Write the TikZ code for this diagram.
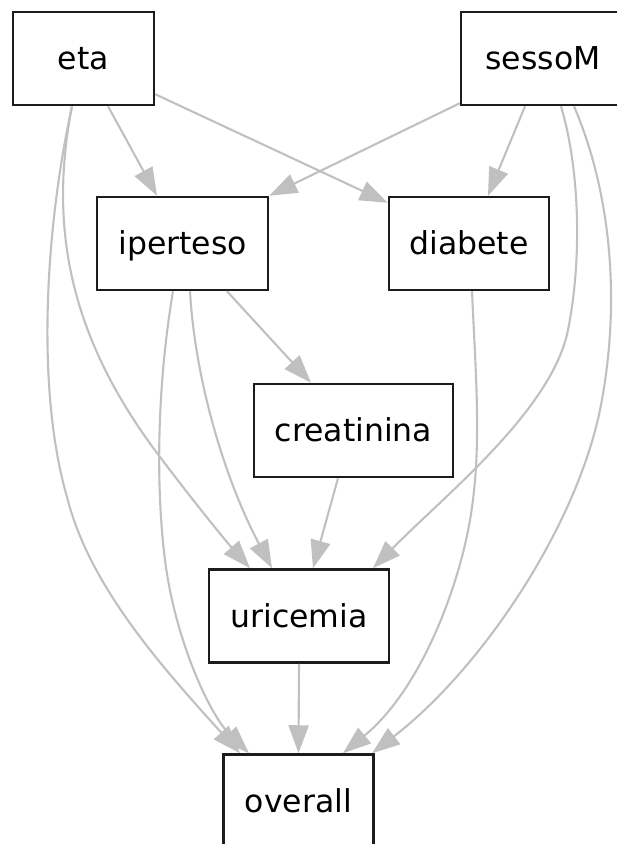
\documentclass[tikz,border=0pt]{standalone}
\usepackage{fontspec}
\setmainfont{DejaVu Sans}
\usetikzlibrary{arrows.meta}
\definecolor{edgegray}{RGB}{192,192,192}
\definecolor{boxline}{RGB}{28,28,28}
\begin{document}
\begin{tikzpicture}[x=1pt,y=-1pt,
  varbox/.style={draw=boxline, line width=2.5pt, rectangle, inner sep=0pt,
    minimum height=93pt, text height=22.6pt, text depth=0pt,
    font=\fontsize{31.5}{37}\selectfont},
  edge/.style={draw=edgegray, line width=2.1pt,
    -{Triangle[length=28pt,width=20pt]}, fill=none}
]
\useasboundingbox (0,0) rectangle (617,844);

% variables
\node[varbox, minimum width=141pt] (eta)        at (83.5,58.5)  {eta};
\node[varbox, minimum width=164pt] (sessoM)     at (543,58.5)   {sessoM};
\node[varbox, minimum width=171pt] (iperteso)   at (182.5,243.5){iperteso};
\node[varbox, minimum width=160pt] (diabete)    at (469,243.5)  {diabete};
\node[varbox, minimum width=199pt] (creatinina) at (353.5,430.5){creatinina};
\node[varbox, minimum width=180pt] (uricemia)   at (299,616)    {uricemia};
\node[varbox, minimum width=150pt] (overall)    at (298.5,801)  {overall};

% straight dependencies
\draw[edge] ([xshift=24.5pt]eta.south) -- ([xshift=-25.5pt]iperteso.north);
\draw[edge] ([yshift=12pt]eta.south east) -- ([yshift=-7pt]diabete.north west);
\draw[edge] ([yshift=3pt]sessoM.south west) -- (iperteso.north east);
\draw[edge] ([xshift=-18pt]sessoM.south) -- ([xshift=19pt]diabete.north);
\draw[edge] ([xshift=44.5pt]iperteso.south) -- ([xshift=-42.5pt]creatinina.north);
\draw[edge] ([xshift=-15.5pt]creatinina.south) -- ([xshift=14pt]uricemia.north);
\draw[edge] (uricemia.south) -- (overall.north);

% curved dependencies
\draw[edge] ([xshift=-11.5pt]eta.south) .. controls (50,220) and (65,330) .. (157,453)
  .. controls (203,514) and (232,548) .. ([xshift=-49pt]uricemia.north);
\draw[edge] ([xshift=-11.5pt]eta.south) .. controls (45,230) and (36,390) .. (67,497)
  .. controls (89,585) and (160,665) .. ([xshift=-58.5pt]overall.north);
\draw[edge] ([xshift=7.5pt]iperteso.south) .. controls (195,380) and (225,480)
  .. ([xshift=-27pt]uricemia.north);
\draw[edge] ([xshift=-9.5pt]iperteso.south) .. controls (158,380) and (155,480) .. (165,560)
  .. controls (175,640) and (210,715) .. ([xshift=-49.5pt]overall.north);
\draw[edge] ([xshift=3pt]diabete.south) .. controls (476,380) and (482,450) .. (470,520)
  .. controls (458,590) and (420,690) .. ([xshift=44.5pt]overall.north);
\draw[edge] ([xshift=18pt]sessoM.south) .. controls (580,170) and (582,260) .. (568,330)
  .. controls (552,410) and (445,495) .. ([xshift=74pt]uricemia.north);
\draw[edge] ([xshift=31pt]sessoM.south) .. controls (610,190) and (622,300) .. (600,410)
  .. controls (575,530) and (480,670) .. ([xshift=73.5pt]overall.north);
\end{tikzpicture}
\end{document}
